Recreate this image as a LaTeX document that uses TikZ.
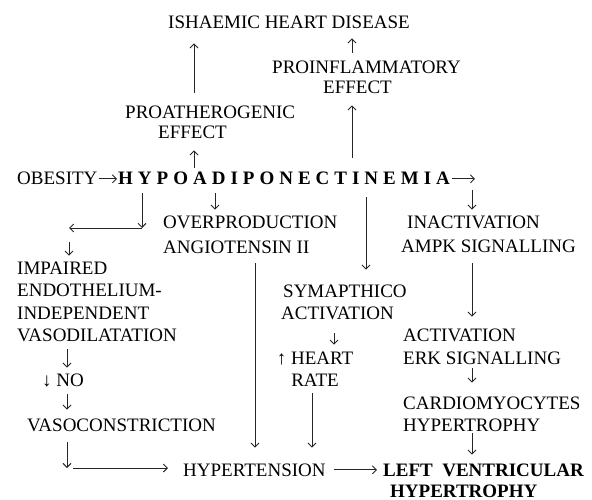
\documentclass[tikz,border=0pt]{standalone}
\usepackage{fontspec}
\setmainfont{Liberation Serif}
\usetikzlibrary{arrows.meta}
\begin{document}
\begin{tikzpicture}[x=1pt,y=-1pt,
  txt/.style={inner sep=0pt, anchor=base west, align=left, font={\fontsize{19}{22}\selectfont}},
  lsk/.style={font={\fontsize{19}{#1}\selectfont}},
  bsk/.style={font={\fontsize{19}{#1}\selectfont\bfseries}},
  arr/.style={-{Straight Barb[length=4pt,width=8pt]}, line width=0.9pt, draw=black!85}]
\useasboundingbox (0,0) rectangle (592,500);
% nodes (anchor = baseline of the last line)
\node[txt] (ihd) at (168,29) {ISHAEMIC HEART DISEASE};
\node[txt,lsk=20] (proinf) at (272,94) {PROINFLAMMATORY\\\hspace*{51pt}EFFECT};
\node[txt,lsk=20] (proath) at (125,139) {PROATHEROGENIC\\\hspace*{33pt}EFFECT};
\node[txt] (obes) at (17,185) {OBESITY};
\node[txt,font={\fontsize{19}{22}\selectfont\bfseries\spaceskip=5pt}] (hypo) at (118,185) {H Y P O A D I P O N E C T I N E M I A};
\node[txt,lsk=25] (over) at (163,253) {OVERPRODUCTION\\ANGIOTENSIN II};
\node[txt,lsk=23.4] (inact) at (401,252.4) {\hspace*{6pt}INACTIVATION\\AMPK SIGNALLING};
\node[txt,lsk=22.5] (imp) at (17,341.5) {IMPAIRED\\ENDOTHELIUM-\\INDEPENDENT\\VASODILATATION};
\node[txt] (sym) at (281,319) {\hspace*{2pt}SYMAPTHICO\\ACTIVATION};
\node[txt,lsk=23] (act) at (403,364) {ACTIVATION\\ERK SIGNALLING};
\node[txt,align=center,anchor=base] (heart) at (315,386) {↑ HEART\\RATE};
\node[txt] (no) at (42,386) {↓ NO};
\node[txt] (cardio) at (403,431) {CARDIOMYOCYTES\\HYPERTROPHY};
\node[txt] (vasoc) at (27,431) {VASOCONSTRICTION};
\node[txt] (hyper) at (183,476) {HYPERTENSION};
\node[txt,bsk=21] (lvh) at (383,497) {LEFT\ \ VENTRICULAR\\\hspace*{7pt}HYPERTROPHY};
% free ends
\coordinate (c1) at (142,228);
\coordinate (c2) at (69,228);
\coordinate (c3) at (67,468);
\coordinate (ar) at (475,177);
% connectors
\draw[arr,shorten <=13.6pt,shorten >=14pt] (proath.north -| 194,0) -- (ihd.south -| 194,0);
\draw[arr,shorten <=8.6pt,shorten >=9pt] (proinf.north -| 352,0) -- (ihd.south -| 352,0);
\draw[arr,shorten <=4.6pt,shorten >=11pt] (hypo.north -| 194,0) -- (proath.south -| 194,0);
\draw[arr,shorten <=14.6pt,shorten >=11pt] (hypo.north -| 352,0) -- (proinf.south -| 352,0);
\draw[arr,shorten <=1pt,shorten >=1pt] (obes.east) -- (hypo.west);
\draw[arr,shorten <=2pt] (hypo.east) -- (hypo.east -| ar);
\draw[arr,shorten >=6.6pt] ([shift={(-3,13)}]ar) -- (inact.north -| 472,0);
\draw[arr,shorten <=8pt,shorten >=5.6pt] (hypo.south -| 215,0) -- (over.north -| 215,0);
\draw[arr,shorten <=8pt] (hypo.south -| c1) -- (c1);
\draw[arr] (c1) -- (c2);
\draw[arr,shorten <=14pt,shorten >=5.6pt] (c2) -- (c2 |- imp.north);
\draw[arr,shorten <=12pt,shorten >=14.6pt] (hypo.south -| 366,0) -- (sym.north -| 366,0);
\draw[arr,shorten <=10pt,shorten >=15.6pt] (over.south -| 255,0) -- (hyper.north -| 255,0);
\draw[arr,shorten <=10.6pt,shorten >=11.6pt] (inact.south -| 472,0) -- (act.north -| 472,0);
\draw[arr,shorten <=7.5pt,shorten >=5.6pt] (imp.south -| 67,0) -- (no.north -| 67,0);
\draw[arr,shorten <=7pt,shorten >=8.6pt] (no.south -| 67,0) -- (vasoc.north -| 67,0);
\draw[arr,shorten <=11pt] (vasoc.south -| c3) -- (c3);
\draw[arr,shorten <=6pt,shorten >=15pt] (c3) -- (c3 -| hyper.west);
\draw[arr,shorten <=14pt,shorten >=6.6pt] (sym.south -| 334,0) -- (heart.north -| 334,0);
\draw[arr,shorten <=7pt,shorten >=15.6pt] (heart.south -| 312,0) -- (hyper.north -| 312,0);
\draw[arr,shorten <=4pt,shorten >=13.6pt] (act.south -| 472,0) -- (cardio.north -| 472,0);
\draw[arr,shorten <=2pt,shorten >=8.6pt] (cardio.south -| 472,0) -- (lvh.north -| 472,0);
\draw[arr,shorten <=8pt,shorten >=6pt] (hyper.east) -- (hyper.east -| lvh.west);
\end{tikzpicture}
\end{document}
